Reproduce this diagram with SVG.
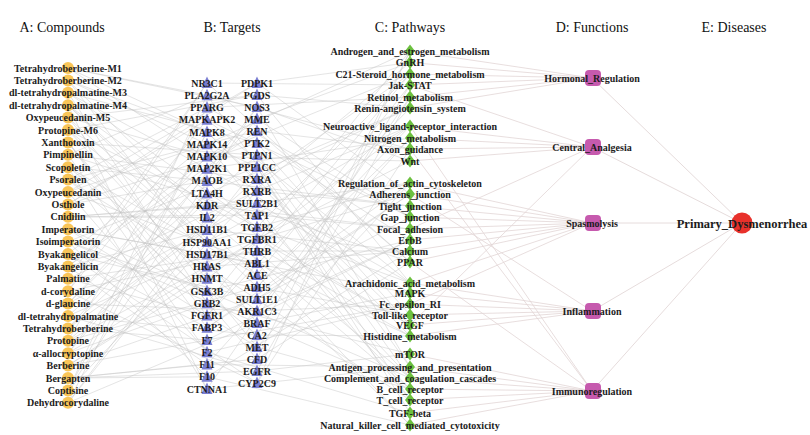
<svg xmlns="http://www.w3.org/2000/svg" xmlns:xlink="http://www.w3.org/1999/xlink" width="810" height="435" viewBox="0 0 810 435">
<style>
.h{font-family:"Liberation Serif",serif;font-size:14px;fill:#111;text-anchor:middle}
.t{font-family:"Liberation Serif",serif;font-weight:bold;font-size:10px;fill:#1c1c1c;text-anchor:middle}
.te{font-family:"Liberation Serif",serif;font-weight:bold;font-size:12.5px;fill:#1c1c1c;text-anchor:middle}
.ab line,.bc line{stroke:#c4c4c4;stroke-width:0.6;opacity:0.75}
.cd line{stroke:#e2d6d6;stroke-width:0.8}
.de line{stroke:#e6dcdc;stroke-width:1}
.ca{fill:#F8C04A;opacity:0.92}
.tb{fill:#7A7ED2}
.dc{fill:#6CC03F}
.sd{fill:#C65AAE}
</style>
<defs>
<circle id="cir" cx="0" cy="0" r="6" class="ca"/>
<polygon id="tri" points="0,-6.5 -5.5,5 5.5,5" class="tb"/>
<polygon id="dia" points="0,-6.5 5,0 0,6.5 -5,0" class="dc"/>
<rect id="sq" x="-8" y="-8" width="16" height="16" rx="4" class="sd"/>
</defs>
<rect width="810" height="435" fill="#ffffff"/>
<g id="headers">
<text class="h" x="62" y="32">A: Compounds</text>
<text class="h" x="232" y="32">B: Targets</text>
<text class="h" x="410" y="32">C: Pathways</text>
<text class="h" x="592" y="32">D: Functions</text>
<text class="h" x="734" y="32">E: Diseases</text>
</g>
<g id="connectors">
<g class="ab">
<line x1="68" y1="68" x2="207" y2="95.2"/><line x1="68" y1="68" x2="207" y2="132"/><line x1="68" y1="68" x2="257" y2="107"/><line x1="68" y1="68" x2="257" y2="191"/>
<line x1="68" y1="80.4" x2="207" y2="132"/><line x1="68" y1="80.4" x2="207" y2="217.6"/><line x1="68" y1="80.4" x2="257" y2="167"/><line x1="68" y1="80.4" x2="257" y2="323"/>
<line x1="68" y1="92.8" x2="207" y2="168.7"/><line x1="68" y1="92.8" x2="207" y2="303.3"/><line x1="68" y1="92.8" x2="257" y2="227"/><line x1="68" y1="92.8" x2="257" y2="143"/>
<line x1="68" y1="105.2" x2="207" y2="205.4"/><line x1="68" y1="105.2" x2="207" y2="389"/><line x1="68" y1="105.2" x2="257" y2="287"/><line x1="68" y1="105.2" x2="257" y2="275"/>
<line x1="68" y1="117.6" x2="207" y2="242.1"/><line x1="68" y1="117.6" x2="207" y2="156.4"/><line x1="68" y1="117.6" x2="257" y2="347"/><line x1="68" y1="117.6" x2="257" y2="95"/>
<line x1="68" y1="130" x2="207" y2="278.8"/><line x1="68" y1="130" x2="207" y2="242.1"/><line x1="68" y1="130" x2="257" y2="95"/><line x1="68" y1="130" x2="257" y2="227"/>
<line x1="68" y1="142.4" x2="207" y2="315.6"/><line x1="68" y1="142.4" x2="207" y2="327.8"/><line x1="68" y1="142.4" x2="257" y2="155"/><line x1="68" y1="142.4" x2="257" y2="359"/>
<line x1="68" y1="154.8" x2="207" y2="352.3"/><line x1="68" y1="154.8" x2="207" y2="95.2"/><line x1="68" y1="154.8" x2="257" y2="215"/><line x1="68" y1="154.8" x2="257" y2="179"/>
<line x1="68" y1="167.2" x2="207" y2="389"/><line x1="68" y1="167.2" x2="207" y2="180.9"/><line x1="68" y1="167.2" x2="257" y2="275"/><line x1="68" y1="167.2" x2="257" y2="311"/>
<line x1="68" y1="179.6" x2="207" y2="107.5"/><line x1="68" y1="179.6" x2="207" y2="266.6"/><line x1="68" y1="179.6" x2="257" y2="335"/><line x1="68" y1="179.6" x2="257" y2="131"/>
<line x1="68" y1="192" x2="207" y2="144.2"/><line x1="68" y1="192" x2="207" y2="352.3"/><line x1="68" y1="192" x2="257" y2="83"/><line x1="68" y1="192" x2="257" y2="263"/>
<line x1="68" y1="204.4" x2="207" y2="180.9"/><line x1="68" y1="204.4" x2="207" y2="119.7"/><line x1="68" y1="204.4" x2="257" y2="143"/><line x1="68" y1="204.4" x2="257" y2="83"/>
<line x1="68" y1="216.8" x2="207" y2="217.6"/><line x1="68" y1="216.8" x2="207" y2="205.4"/><line x1="68" y1="216.8" x2="257" y2="203"/><line x1="68" y1="216.8" x2="257" y2="215"/>
<line x1="68" y1="229.2" x2="207" y2="254.4"/><line x1="68" y1="229.2" x2="207" y2="291.1"/><line x1="68" y1="229.2" x2="257" y2="263"/><line x1="68" y1="229.2" x2="257" y2="347"/>
<line x1="68" y1="241.6" x2="207" y2="291.1"/><line x1="68" y1="241.6" x2="207" y2="376.8"/><line x1="68" y1="241.6" x2="257" y2="323"/><line x1="68" y1="241.6" x2="257" y2="167"/>
<line x1="68" y1="254" x2="207" y2="327.8"/><line x1="68" y1="254" x2="207" y2="144.2"/><line x1="68" y1="254" x2="257" y2="383"/><line x1="68" y1="254" x2="257" y2="299"/>
<line x1="68" y1="266.4" x2="207" y2="364.5"/><line x1="68" y1="266.4" x2="207" y2="229.9"/><line x1="68" y1="266.4" x2="257" y2="131"/><line x1="68" y1="266.4" x2="257" y2="119"/>
<line x1="68" y1="278.8" x2="207" y2="83"/><line x1="68" y1="278.8" x2="207" y2="315.6"/><line x1="68" y1="278.8" x2="257" y2="191"/><line x1="68" y1="278.8" x2="257" y2="251"/>
<line x1="68" y1="291.2" x2="207" y2="119.7"/><line x1="68" y1="291.2" x2="207" y2="83"/><line x1="68" y1="291.2" x2="257" y2="251"/><line x1="68" y1="291.2" x2="257" y2="383"/>
<line x1="68" y1="303.6" x2="207" y2="156.4"/><line x1="68" y1="303.6" x2="207" y2="168.7"/><line x1="68" y1="303.6" x2="257" y2="311"/><line x1="68" y1="303.6" x2="257" y2="203"/>
<line x1="68" y1="316" x2="207" y2="193.2"/><line x1="68" y1="316" x2="207" y2="254.4"/><line x1="68" y1="316" x2="257" y2="371"/><line x1="68" y1="316" x2="257" y2="335"/>
<line x1="68" y1="328.4" x2="207" y2="229.9"/><line x1="68" y1="328.4" x2="207" y2="340"/><line x1="68" y1="328.4" x2="257" y2="119"/><line x1="68" y1="328.4" x2="257" y2="155"/>
<line x1="68" y1="340.8" x2="207" y2="266.6"/><line x1="68" y1="340.8" x2="207" y2="107.5"/><line x1="68" y1="340.8" x2="257" y2="179"/><line x1="68" y1="340.8" x2="257" y2="287"/>
<line x1="68" y1="353.2" x2="207" y2="303.3"/><line x1="68" y1="353.2" x2="207" y2="193.2"/><line x1="68" y1="353.2" x2="257" y2="239"/><line x1="68" y1="353.2" x2="257" y2="107"/>
<line x1="68" y1="365.6" x2="207" y2="340"/><line x1="68" y1="365.6" x2="207" y2="278.8"/><line x1="68" y1="365.6" x2="257" y2="299"/><line x1="68" y1="365.6" x2="257" y2="239"/>
<line x1="68" y1="378" x2="207" y2="376.8"/><line x1="68" y1="378" x2="207" y2="364.5"/><line x1="68" y1="378" x2="257" y2="359"/><line x1="68" y1="378" x2="257" y2="371"/>
<line x1="68" y1="390.4" x2="207" y2="95.2"/><line x1="68" y1="390.4" x2="207" y2="132"/><line x1="68" y1="390.4" x2="257" y2="107"/><line x1="68" y1="390.4" x2="257" y2="191"/>
<line x1="68" y1="402.8" x2="207" y2="132"/><line x1="68" y1="402.8" x2="207" y2="217.6"/><line x1="68" y1="402.8" x2="257" y2="167"/><line x1="68" y1="402.8" x2="257" y2="323"/>
</g>
<g class="bc">
<line x1="207" y1="83" x2="410" y2="85"/><line x1="207" y1="83" x2="410" y2="262"/>
<line x1="207" y1="95.2" x2="410" y2="149"/><line x1="207" y1="95.2" x2="410" y2="378"/>
<line x1="207" y1="107.5" x2="410" y2="217"/><line x1="207" y1="107.5" x2="410" y2="97"/>
<line x1="207" y1="119.7" x2="410" y2="283"/><line x1="207" y1="119.7" x2="410" y2="217"/>
<line x1="207" y1="132" x2="410" y2="336"/><line x1="207" y1="132" x2="410" y2="325"/>
<line x1="207" y1="144.2" x2="410" y2="400"/><line x1="207" y1="144.2" x2="410" y2="51"/>
<line x1="207" y1="156.4" x2="410" y2="74"/><line x1="207" y1="156.4" x2="410" y2="161"/>
<line x1="207" y1="168.7" x2="410" y2="138"/><line x1="207" y1="168.7" x2="410" y2="283"/>
<line x1="207" y1="180.9" x2="410" y2="206"/><line x1="207" y1="180.9" x2="410" y2="389"/>
<line x1="207" y1="193.2" x2="410" y2="262"/><line x1="207" y1="193.2" x2="410" y2="108"/>
<line x1="207" y1="205.4" x2="410" y2="325"/><line x1="207" y1="205.4" x2="410" y2="229"/>
<line x1="207" y1="217.6" x2="410" y2="389"/><line x1="207" y1="217.6" x2="410" y2="336"/>
<line x1="207" y1="229.9" x2="410" y2="62.5"/><line x1="207" y1="229.9" x2="410" y2="251"/>
<line x1="207" y1="242.1" x2="410" y2="126"/><line x1="207" y1="242.1" x2="410" y2="183"/>
<line x1="207" y1="254.4" x2="410" y2="194"/><line x1="207" y1="254.4" x2="410" y2="293"/>
<line x1="207" y1="266.6" x2="410" y2="251"/><line x1="207" y1="266.6" x2="410" y2="400"/>
<line x1="207" y1="278.8" x2="410" y2="315"/><line x1="207" y1="278.8" x2="410" y2="126"/>
<line x1="207" y1="291.1" x2="410" y2="378"/><line x1="207" y1="291.1" x2="410" y2="240"/>
<line x1="207" y1="303.3" x2="410" y2="51"/><line x1="207" y1="303.3" x2="410" y2="354"/>
<line x1="207" y1="315.6" x2="410" y2="108"/><line x1="207" y1="315.6" x2="410" y2="74"/>
<line x1="207" y1="327.8" x2="410" y2="183"/><line x1="207" y1="327.8" x2="410" y2="194"/>
<line x1="207" y1="340" x2="410" y2="240"/><line x1="207" y1="340" x2="410" y2="304"/>
<line x1="207" y1="352.3" x2="410" y2="304"/><line x1="207" y1="352.3" x2="410" y2="413"/>
<line x1="207" y1="364.5" x2="410" y2="367"/><line x1="207" y1="364.5" x2="410" y2="138"/>
<line x1="207" y1="376.8" x2="410" y2="425"/><line x1="207" y1="376.8" x2="410" y2="251"/>
<line x1="207" y1="389" x2="410" y2="97"/><line x1="207" y1="389" x2="410" y2="367"/>
<line x1="257" y1="83" x2="410" y2="194"/><line x1="257" y1="83" x2="410" y2="62.5"/>
<line x1="257" y1="95" x2="410" y2="283"/><line x1="257" y1="95" x2="410" y2="108"/>
<line x1="257" y1="107" x2="410" y2="367"/><line x1="257" y1="107" x2="410" y2="161"/>
<line x1="257" y1="119" x2="410" y2="62.5"/><line x1="257" y1="119" x2="410" y2="217"/>
<line x1="257" y1="131" x2="410" y2="149"/><line x1="257" y1="131" x2="410" y2="262"/>
<line x1="257" y1="143" x2="410" y2="240"/><line x1="257" y1="143" x2="410" y2="315"/>
<line x1="257" y1="155" x2="410" y2="325"/><line x1="257" y1="155" x2="410" y2="367"/>
<line x1="257" y1="167" x2="410" y2="413"/><line x1="257" y1="167" x2="410" y2="400"/>
<line x1="257" y1="179" x2="410" y2="108"/><line x1="257" y1="179" x2="410" y2="74"/>
<line x1="257" y1="191" x2="410" y2="206"/><line x1="257" y1="191" x2="410" y2="126"/>
<line x1="257" y1="203" x2="410" y2="293"/><line x1="257" y1="203" x2="410" y2="183"/>
<line x1="257" y1="215" x2="410" y2="378"/><line x1="257" y1="215" x2="410" y2="229"/>
<line x1="257" y1="227" x2="410" y2="74"/><line x1="257" y1="227" x2="410" y2="283"/>
<line x1="257" y1="239" x2="410" y2="161"/><line x1="257" y1="239" x2="410" y2="325"/>
<line x1="257" y1="251" x2="410" y2="251"/><line x1="257" y1="251" x2="410" y2="378"/>
<line x1="257" y1="263" x2="410" y2="336"/><line x1="257" y1="263" x2="410" y2="425"/>
<line x1="257" y1="275" x2="410" y2="425"/><line x1="257" y1="275" x2="410" y2="85"/>
<line x1="257" y1="287" x2="410" y2="126"/><line x1="257" y1="287" x2="410" y2="138"/>
<line x1="257" y1="299" x2="410" y2="217"/><line x1="257" y1="299" x2="410" y2="194"/>
<line x1="257" y1="311" x2="410" y2="304"/><line x1="257" y1="311" x2="410" y2="240"/>
<line x1="257" y1="323" x2="410" y2="389"/><line x1="257" y1="323" x2="410" y2="293"/>
<line x1="257" y1="335" x2="410" y2="85"/><line x1="257" y1="335" x2="410" y2="336"/>
<line x1="257" y1="347" x2="410" y2="183"/><line x1="257" y1="347" x2="410" y2="389"/>
<line x1="257" y1="359" x2="410" y2="262"/><line x1="257" y1="359" x2="410" y2="51"/>
<line x1="257" y1="371" x2="410" y2="354"/><line x1="257" y1="371" x2="410" y2="97"/>
<line x1="257" y1="383" x2="410" y2="51"/><line x1="257" y1="383" x2="410" y2="149"/>
</g>
<g class="cd">
<line x1="410" y1="51" x2="592" y2="78"/><line x1="410" y1="62.5" x2="592" y2="78"/><line x1="410" y1="74" x2="592" y2="78"/><line x1="410" y1="85" x2="592" y2="78"/><line x1="410" y1="97" x2="592" y2="78"/><line x1="410" y1="108" x2="592" y2="78"/>
<line x1="410" y1="126" x2="592" y2="147"/><line x1="410" y1="138" x2="592" y2="147"/><line x1="410" y1="149" x2="592" y2="147"/><line x1="410" y1="161" x2="592" y2="147"/>
<line x1="410" y1="183" x2="592" y2="223"/><line x1="410" y1="194" x2="592" y2="223"/><line x1="410" y1="206" x2="592" y2="223"/><line x1="410" y1="217" x2="592" y2="223"/><line x1="410" y1="229" x2="592" y2="223"/><line x1="410" y1="240" x2="592" y2="223"/><line x1="410" y1="251" x2="592" y2="223"/><line x1="410" y1="262" x2="592" y2="223"/>
<line x1="410" y1="283" x2="592" y2="311"/><line x1="410" y1="293" x2="592" y2="311"/><line x1="410" y1="304" x2="592" y2="311"/><line x1="410" y1="315" x2="592" y2="311"/><line x1="410" y1="325" x2="592" y2="311"/><line x1="410" y1="336" x2="592" y2="311"/>
<line x1="410" y1="354" x2="592" y2="391"/><line x1="410" y1="367" x2="592" y2="391"/><line x1="410" y1="378" x2="592" y2="391"/><line x1="410" y1="389" x2="592" y2="391"/><line x1="410" y1="400" x2="592" y2="391"/><line x1="410" y1="413" x2="592" y2="391"/><line x1="410" y1="425" x2="592" y2="391"/>
<line x1="410" y1="126" x2="592" y2="391"/><line x1="410" y1="149" x2="592" y2="391"/><line x1="410" y1="229" x2="592" y2="147"/><line x1="410" y1="325" x2="592" y2="147"/><line x1="410" y1="85" x2="592" y2="147"/><line x1="410" y1="283" x2="592" y2="223"/><line x1="410" y1="304" x2="592" y2="223"/><line x1="410" y1="194" x2="592" y2="311"/><line x1="410" y1="262" x2="592" y2="391"/>
</g>
<g class="de">
<line x1="592" y1="78" x2="742" y2="223"/><line x1="592" y1="147" x2="742" y2="223"/><line x1="592" y1="223" x2="742" y2="223"/><line x1="592" y1="311" x2="742" y2="223"/><line x1="592" y1="391" x2="742" y2="223"/>
</g>
</g>
<g id="compounds">
<g id="a1"><use href="#cir" x="68" y="68"/><text class="t" x="68" y="71.5">Tetrahydroberberine-M1</text></g>
<g id="a2"><use href="#cir" x="68" y="80.4"/><text class="t" x="68" y="83.9">Tetrahydroberberine-M2</text></g>
<g id="a3"><use href="#cir" x="68" y="92.8"/><text class="t" x="68" y="96.3">dl-tetrahydropalmatine-M3</text></g>
<g id="a4"><use href="#cir" x="68" y="105.2"/><text class="t" x="68" y="108.7">dl-tetrahydropalmatine-M4</text></g>
<g id="a5"><use href="#cir" x="68" y="117.6"/><text class="t" x="68" y="121.1">Oxypeucedanin-M5</text></g>
<g id="a6"><use href="#cir" x="68" y="130"/><text class="t" x="68" y="133.5">Protopine-M6</text></g>
<g id="a7"><use href="#cir" x="68" y="142.4"/><text class="t" x="68" y="145.9">Xanthotoxin</text></g>
<g id="a8"><use href="#cir" x="68" y="154.8"/><text class="t" x="68" y="158.3">Pimpinellin</text></g>
<g id="a9"><use href="#cir" x="68" y="167.2"/><text class="t" x="68" y="170.7">Scopoletin</text></g>
<g id="a10"><use href="#cir" x="68" y="179.6"/><text class="t" x="68" y="183.1">Psoralen</text></g>
<g id="a11"><use href="#cir" x="68" y="192"/><text class="t" x="68" y="195.5">Oxypeucedanin</text></g>
<g id="a12"><use href="#cir" x="68" y="204.4"/><text class="t" x="68" y="207.9">Osthole</text></g>
<g id="a13"><use href="#cir" x="68" y="216.8"/><text class="t" x="68" y="220.3">Cnidilin</text></g>
<g id="a14"><use href="#cir" x="68" y="229.2"/><text class="t" x="68" y="232.7">Imperatorin</text></g>
<g id="a15"><use href="#cir" x="68" y="241.6"/><text class="t" x="68" y="245.1">Isoimperatorin</text></g>
<g id="a16"><use href="#cir" x="68" y="254"/><text class="t" x="68" y="257.5">Byakangelicol</text></g>
<g id="a17"><use href="#cir" x="68" y="266.4"/><text class="t" x="68" y="269.9">Byakangelicin</text></g>
<g id="a18"><use href="#cir" x="68" y="278.8"/><text class="t" x="68" y="282.3">Palmatine</text></g>
<g id="a19"><use href="#cir" x="68" y="291.2"/><text class="t" x="68" y="294.7">d-corydaline</text></g>
<g id="a20"><use href="#cir" x="68" y="303.6"/><text class="t" x="68" y="307.1">d-glaucine</text></g>
<g id="a21"><use href="#cir" x="68" y="316"/><text class="t" x="68" y="319.5">dl-tetrahydropalmatine</text></g>
<g id="a22"><use href="#cir" x="68" y="328.4"/><text class="t" x="68" y="331.9">Tetrahydroberberine</text></g>
<g id="a23"><use href="#cir" x="68" y="340.8"/><text class="t" x="68" y="344.3">Protopine</text></g>
<g id="a24"><use href="#cir" x="68" y="353.2"/><text class="t" x="68" y="356.7">α-allocryptopine</text></g>
<g id="a25"><use href="#cir" x="68" y="365.6"/><text class="t" x="68" y="369.1">Berberine</text></g>
<g id="a26"><use href="#cir" x="68" y="378"/><text class="t" x="68" y="381.5">Bergapten</text></g>
<g id="a27"><use href="#cir" x="68" y="390.4"/><text class="t" x="68" y="393.9">Coptisine</text></g>
<g id="a28"><use href="#cir" x="68" y="402.8"/><text class="t" x="68" y="406.3">Dehydrocorydaline</text></g>
</g>
<g id="targets">
<g id="bl1"><use href="#tri" x="207" y="83"/><text class="t" x="207" y="86.5">NR3C1</text></g>
<g id="bl2"><use href="#tri" x="207" y="95.2"/><text class="t" x="207" y="98.7">PLA2G2A</text></g>
<g id="bl3"><use href="#tri" x="207" y="107.5"/><text class="t" x="207" y="111">PPARG</text></g>
<g id="bl4"><use href="#tri" x="207" y="119.7"/><text class="t" x="207" y="123.2">MAPKAPK2</text></g>
<g id="bl5"><use href="#tri" x="207" y="132"/><text class="t" x="207" y="135.5">MAPK8</text></g>
<g id="bl6"><use href="#tri" x="207" y="144.2"/><text class="t" x="207" y="147.7">MAPK14</text></g>
<g id="bl7"><use href="#tri" x="207" y="156.4"/><text class="t" x="207" y="159.9">MAPK10</text></g>
<g id="bl8"><use href="#tri" x="207" y="168.7"/><text class="t" x="207" y="172.2">MAP2K1</text></g>
<g id="bl9"><use href="#tri" x="207" y="180.9"/><text class="t" x="207" y="184.4">MAOB</text></g>
<g id="bl10"><use href="#tri" x="207" y="193.2"/><text class="t" x="207" y="196.7">LTA4H</text></g>
<g id="bl11"><use href="#tri" x="207" y="205.4"/><text class="t" x="207" y="208.9">KDR</text></g>
<g id="bl12"><use href="#tri" x="207" y="217.6"/><text class="t" x="207" y="221.1">IL2</text></g>
<g id="bl13"><use href="#tri" x="207" y="229.9"/><text class="t" x="207" y="233.4">HSD11B1</text></g>
<g id="bl14"><use href="#tri" x="207" y="242.1"/><text class="t" x="207" y="245.6">HSP90AA1</text></g>
<g id="bl15"><use href="#tri" x="207" y="254.4"/><text class="t" x="207" y="257.9">HSD17B1</text></g>
<g id="bl16"><use href="#tri" x="207" y="266.6"/><text class="t" x="207" y="270.1">HRAS</text></g>
<g id="bl17"><use href="#tri" x="207" y="278.8"/><text class="t" x="207" y="282.3">HNMT</text></g>
<g id="bl18"><use href="#tri" x="207" y="291.1"/><text class="t" x="207" y="294.6">GSK3B</text></g>
<g id="bl19"><use href="#tri" x="207" y="303.3"/><text class="t" x="207" y="306.8">GRB2</text></g>
<g id="bl20"><use href="#tri" x="207" y="315.6"/><text class="t" x="207" y="319.1">FGFR1</text></g>
<g id="bl21"><use href="#tri" x="207" y="327.8"/><text class="t" x="207" y="331.3">FABP3</text></g>
<g id="bl22"><use href="#tri" x="207" y="340"/><text class="t" x="207" y="343.5">F7</text></g>
<g id="bl23"><use href="#tri" x="207" y="352.3"/><text class="t" x="207" y="355.8">F2</text></g>
<g id="bl24"><use href="#tri" x="207" y="364.5"/><text class="t" x="207" y="368">F11</text></g>
<g id="bl25"><use href="#tri" x="207" y="376.8"/><text class="t" x="207" y="380.3">F10</text></g>
<g id="bl26"><use href="#tri" x="207" y="389"/><text class="t" x="207" y="392.5">CTNNA1</text></g>
<g id="br1"><use href="#tri" x="257" y="83"/><text class="t" x="257" y="86.5">PDPK1</text></g>
<g id="br2"><use href="#tri" x="257" y="95"/><text class="t" x="257" y="98.5">PGDS</text></g>
<g id="br3"><use href="#tri" x="257" y="107"/><text class="t" x="257" y="110.5">NOS3</text></g>
<g id="br4"><use href="#tri" x="257" y="119"/><text class="t" x="257" y="122.5">MME</text></g>
<g id="br5"><use href="#tri" x="257" y="131"/><text class="t" x="257" y="134.5">REN</text></g>
<g id="br6"><use href="#tri" x="257" y="143"/><text class="t" x="257" y="146.5">PTK2</text></g>
<g id="br7"><use href="#tri" x="257" y="155"/><text class="t" x="257" y="158.5">PTPN1</text></g>
<g id="br8"><use href="#tri" x="257" y="167"/><text class="t" x="257" y="170.5">PPP1CC</text></g>
<g id="br9"><use href="#tri" x="257" y="179"/><text class="t" x="257" y="182.5">RXRA</text></g>
<g id="br10"><use href="#tri" x="257" y="191"/><text class="t" x="257" y="194.5">RXRB</text></g>
<g id="br11"><use href="#tri" x="257" y="203"/><text class="t" x="257" y="206.5">SULT2B1</text></g>
<g id="br12"><use href="#tri" x="257" y="215"/><text class="t" x="257" y="218.5">TAP1</text></g>
<g id="br13"><use href="#tri" x="257" y="227"/><text class="t" x="257" y="230.5">TGFB2</text></g>
<g id="br14"><use href="#tri" x="257" y="239"/><text class="t" x="257" y="242.5">TGFBR1</text></g>
<g id="br15"><use href="#tri" x="257" y="251"/><text class="t" x="257" y="254.5">THRB</text></g>
<g id="br16"><use href="#tri" x="257" y="263"/><text class="t" x="257" y="266.5">ABL1</text></g>
<g id="br17"><use href="#tri" x="257" y="275"/><text class="t" x="257" y="278.5">ACE</text></g>
<g id="br18"><use href="#tri" x="257" y="287"/><text class="t" x="257" y="290.5">ADH5</text></g>
<g id="br19"><use href="#tri" x="257" y="299"/><text class="t" x="257" y="302.5">SULT1E1</text></g>
<g id="br20"><use href="#tri" x="257" y="311"/><text class="t" x="257" y="314.5">AKR1C3</text></g>
<g id="br21"><use href="#tri" x="257" y="323"/><text class="t" x="257" y="326.5">BRAF</text></g>
<g id="br22"><use href="#tri" x="257" y="335"/><text class="t" x="257" y="338.5">CA2</text></g>
<g id="br23"><use href="#tri" x="257" y="347"/><text class="t" x="257" y="350.5">MET</text></g>
<g id="br24"><use href="#tri" x="257" y="359"/><text class="t" x="257" y="362.5">CFD</text></g>
<g id="br25"><use href="#tri" x="257" y="371"/><text class="t" x="257" y="374.5">EGFR</text></g>
<g id="br26"><use href="#tri" x="257" y="383"/><text class="t" x="257" y="386.5">CYP2C9</text></g>
</g>
<g id="pathways">
<g id="c1"><use href="#dia" x="410" y="51"/><text class="t" x="410" y="54.5">Androgen_and_estrogen_metabolism</text></g>
<g id="c2"><use href="#dia" x="410" y="62.5"/><text class="t" x="410" y="66">GnRH</text></g>
<g id="c3"><use href="#dia" x="410" y="74"/><text class="t" x="410" y="77.5">C21-Steroid_hormone_metabolism</text></g>
<g id="c4"><use href="#dia" x="410" y="85"/><text class="t" x="410" y="88.5">Jak-STAT</text></g>
<g id="c5"><use href="#dia" x="410" y="97"/><text class="t" x="410" y="100.5">Retinol_metabolism</text></g>
<g id="c6"><use href="#dia" x="410" y="108"/><text class="t" x="410" y="111.5">Renin-angiotensin_system</text></g>
<g id="c7"><use href="#dia" x="410" y="126"/><text class="t" x="410" y="129.5">Neuroactive_ligand-receptor_interaction</text></g>
<g id="c8"><use href="#dia" x="410" y="138"/><text class="t" x="410" y="141.5">Nitrogen_metabolism</text></g>
<g id="c9"><use href="#dia" x="410" y="149"/><text class="t" x="410" y="152.5">Axon_guidance</text></g>
<g id="c10"><use href="#dia" x="410" y="161"/><text class="t" x="410" y="164.5">Wnt</text></g>
<g id="c11"><use href="#dia" x="410" y="183"/><text class="t" x="410" y="186.5">Regulation_of_actin_cytoskeleton</text></g>
<g id="c12"><use href="#dia" x="410" y="194"/><text class="t" x="410" y="197.5">Adherens_junction</text></g>
<g id="c13"><use href="#dia" x="410" y="206"/><text class="t" x="410" y="209.5">Tight_junction</text></g>
<g id="c14"><use href="#dia" x="410" y="217"/><text class="t" x="410" y="220.5">Gap_junction</text></g>
<g id="c15"><use href="#dia" x="410" y="229"/><text class="t" x="410" y="232.5">Focal_adhesion</text></g>
<g id="c16"><use href="#dia" x="410" y="240"/><text class="t" x="410" y="243.5">ErbB</text></g>
<g id="c17"><use href="#dia" x="410" y="251"/><text class="t" x="410" y="254.5">Calcium</text></g>
<g id="c18"><use href="#dia" x="410" y="262"/><text class="t" x="410" y="265.5">PPAR</text></g>
<g id="c19"><use href="#dia" x="410" y="283"/><text class="t" x="410" y="286.5">Arachidonic_acid_metabolism</text></g>
<g id="c20"><use href="#dia" x="410" y="293"/><text class="t" x="410" y="296.5">MAPK</text></g>
<g id="c21"><use href="#dia" x="410" y="304"/><text class="t" x="410" y="307.5">Fc_epsilon_RI</text></g>
<g id="c22"><use href="#dia" x="410" y="315"/><text class="t" x="410" y="318.5">Toll-like_receptor</text></g>
<g id="c23"><use href="#dia" x="410" y="325"/><text class="t" x="410" y="328.5">VEGF</text></g>
<g id="c24"><use href="#dia" x="410" y="336"/><text class="t" x="410" y="339.5">Histidine_metabolism</text></g>
<g id="c25"><use href="#dia" x="410" y="354"/><text class="t" x="410" y="357.5">mTOR</text></g>
<g id="c26"><use href="#dia" x="410" y="367"/><text class="t" x="410" y="370.5">Antigen_processing_and_presentation</text></g>
<g id="c27"><use href="#dia" x="410" y="378"/><text class="t" x="410" y="381.5">Complement_and_coagulation_cascades</text></g>
<g id="c28"><use href="#dia" x="410" y="389"/><text class="t" x="410" y="392.5">B_cell_receptor</text></g>
<g id="c29"><use href="#dia" x="410" y="400"/><text class="t" x="410" y="403.5">T_cell_receptor</text></g>
<g id="c30"><use href="#dia" x="410" y="413"/><text class="t" x="410" y="416.5">TGF-beta</text></g>
<g id="c31"><use href="#dia" x="410" y="425"/><text class="t" x="410" y="428.5">Natural_killer_cell_mediated_cytotoxicity</text></g>
</g>
<g id="functions">
<g id="d1"><use href="#sq" x="593" y="78"/><text class="t" x="592" y="81.5">Hormonal_Regulation</text></g>
<g id="d2"><use href="#sq" x="593" y="147"/><text class="t" x="592" y="150.5">Central_Analgesia</text></g>
<g id="d3"><use href="#sq" x="593" y="223"/><text class="t" x="592" y="226.5">Spasmolysis</text></g>
<g id="d4"><use href="#sq" x="593" y="311"/><text class="t" x="592" y="314.5">Inflammation</text></g>
<g id="d5"><use href="#sq" x="593" y="391"/><text class="t" x="592" y="394.5">Immunoregulation</text></g>
</g>
<g id="diseases">
<g id="e1"><circle cx="742" cy="223" r="10.5" fill="#E8312B"/><text class="te" x="742" y="227.5">Primary_Dysmenorrhea</text></g>
</g>
</svg>
